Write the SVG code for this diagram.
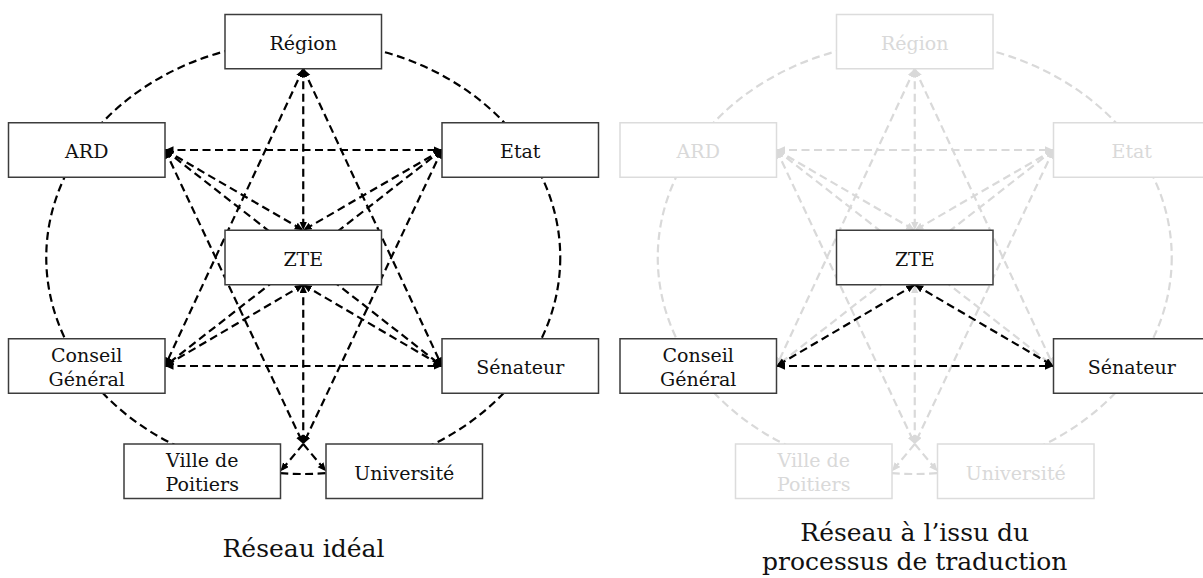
<svg xmlns="http://www.w3.org/2000/svg" width="1203" height="578" viewBox="0 0 1203 578">
  <style>
    .bg{fill:#fff}
    .lk{fill:none;stroke:#000;stroke-width:2.2;stroke-dasharray:8 4.5}
    .lg{fill:none;stroke:#d9d9d9;stroke-width:2.2;stroke-dasharray:8 4.5}
    .k2{marker-start:url(#ak);marker-end:url(#ak)}
    .k1{marker-end:url(#ak)}
    .g2{marker-start:url(#ag);marker-end:url(#ag)}
    .g1{marker-end:url(#ag)}
    .box{fill:#fff;stroke:#3c3c3c;stroke-width:1.5}
    .boxg{fill:#fff;stroke:#dcdcdc;stroke-width:1.5}
    .t{font-family:"DejaVu Serif","Liberation Serif",serif;font-size:19px;text-anchor:middle;fill:#111}
    .tg{font-family:"DejaVu Serif","Liberation Serif",serif;font-size:19px;text-anchor:middle;fill:#d9d9d9}
    .title{font-family:"DejaVu Serif","Liberation Serif",serif;font-size:25px;text-anchor:middle;fill:#111}
  </style>
  <defs>
    <marker id="ak" markerUnits="userSpaceOnUse" markerWidth="9" markerHeight="8" refX="8.5" refY="3.75" orient="auto-start-reverse">
      <path d="M0,0 L8.5,3.75 L0,7.5 Z" fill="#000"/>
    </marker>
    <marker id="ag" markerUnits="userSpaceOnUse" markerWidth="9" markerHeight="8" refX="8.5" refY="3.75" orient="auto-start-reverse">
      <path d="M0,0 L8.5,3.75 L0,7.5 Z" fill="#d9d9d9"/>
    </marker>
  </defs>
  <rect class="bg" x="0" y="0" width="1203" height="578"/>

  <!-- LEFT PANEL: ideal network -->
  <g id="left-panel">
    <g id="left-connectors">
      <ellipse class="lk" cx="303.25" cy="257.5" rx="257" ry="216.5"/>
      <path class="lk k2" d="M303.25,68.75 L303.25,230.25"/>
      <path class="lk k2" d="M303.25,68.75 L165,366"/>
      <path class="lk k2" d="M303.25,68.75 L442,366"/>
      <path class="lk k2" d="M165,150 L442,150"/>
      <path class="lk k2" d="M165,150 L303.25,230.25"/>
      <path class="lk k2" d="M442,150 L303.25,230.25"/>
      <path class="lk k2" d="M165,150 L442,366"/>
      <path class="lk k2" d="M442,150 L165,366"/>
      <path class="lk k2" d="M165,150 L303.25,444"/>
      <path class="lk k2" d="M442,150 L303.25,444"/>
      <path class="lk k2" d="M303.25,284.75 L165,366"/>
      <path class="lk k2" d="M303.25,284.75 L442,366"/>
      <path class="lk k2" d="M303.25,284.75 L303.25,444"/>
      <path class="lk k2" d="M165,366 L442,366"/>
      <path class="lk k1" d="M303.25,444 L280.5,471.25"/>
      <path class="lk k1" d="M303.25,444 L326,471.25"/>
    </g>
    <g id="L-region"><rect class="box" x="225" y="14.5" width="156.5" height="54.25"/><text class="t" x="303.25" y="49.5">Région</text></g>
    <g id="L-ard"><rect class="box" x="8.5" y="122.75" width="156.5" height="54.5"/><text class="t" x="86.75" y="158">ARD</text></g>
    <g id="L-etat"><rect class="box" x="442" y="122.75" width="156.5" height="54.5"/><text class="t" x="520.25" y="158">Etat</text></g>
    <g id="L-zte"><rect class="box" x="225" y="230.25" width="156.5" height="54.5"/><text class="t" x="303.25" y="266">ZTE</text></g>
    <g id="L-conseil"><rect class="box" x="8.5" y="338.75" width="156.5" height="54.5"/><text class="t" x="86.75" y="361.5">Conseil</text><text class="t" x="86.75" y="385.5">Général</text></g>
    <g id="L-senateur"><rect class="box" x="442" y="338.75" width="156.5" height="54.5"/><text class="t" x="520.25" y="374">Sénateur</text></g>
    <g id="L-ville"><rect class="box" x="124" y="444" width="156.5" height="54.5"/><text class="t" x="202.25" y="467">Ville de</text><text class="t" x="202.25" y="491">Poitiers</text></g>
    <g id="L-universite"><rect class="box" x="326" y="444" width="156.5" height="54.5"/><text class="t" x="404.25" y="479.5">Université</text></g>
    <text class="title" x="303.5" y="557">Réseau idéal</text>
  </g>

  <!-- RIGHT PANEL: network after translation -->
  <g id="right-panel" transform="translate(611.5,0)">
    <g id="right-connectors">
      <ellipse class="lg" cx="303.25" cy="257.5" rx="257" ry="216.5"/>
      <path class="lg g2" d="M303.25,68.75 L303.25,230.25"/>
      <path class="lg g2" d="M303.25,68.75 L165,366"/>
      <path class="lg g2" d="M303.25,68.75 L442,366"/>
      <path class="lg g2" d="M165,150 L442,150"/>
      <path class="lg g2" d="M165,150 L303.25,230.25"/>
      <path class="lg g2" d="M442,150 L303.25,230.25"/>
      <path class="lg g2" d="M165,150 L442,366"/>
      <path class="lg g2" d="M442,150 L165,366"/>
      <path class="lg g2" d="M165,150 L303.25,444"/>
      <path class="lg g2" d="M442,150 L303.25,444"/>
      <path class="lg g2" d="M303.25,284.75 L303.25,444"/>
      <path class="lg g1" d="M303.25,444 L280.5,471.25"/>
      <path class="lg g1" d="M303.25,444 L326,471.25"/>
      <path class="lk k2" d="M303.25,284.75 L165,366"/>
      <path class="lk k2" d="M303.25,284.75 L442,366"/>
      <path class="lk k2" d="M165,366 L442,366"/>
    </g>
    <g id="R-region"><rect class="boxg" x="225" y="14.5" width="156.5" height="54.25"/><text class="tg" x="303.25" y="49.5">Région</text></g>
    <g id="R-ard"><rect class="boxg" x="8.5" y="122.75" width="156.5" height="54.5"/><text class="tg" x="86.75" y="158">ARD</text></g>
    <g id="R-etat"><rect class="boxg" x="442" y="122.75" width="156.5" height="54.5"/><text class="tg" x="520.25" y="158">Etat</text></g>
    <g id="R-zte"><rect class="box" x="225" y="230.25" width="156.5" height="54.5"/><text class="t" x="303.25" y="266">ZTE</text></g>
    <g id="R-conseil"><rect class="box" x="8.5" y="338.75" width="156.5" height="54.5"/><text class="t" x="86.75" y="361.5">Conseil</text><text class="t" x="86.75" y="385.5">Général</text></g>
    <g id="R-senateur"><rect class="box" x="442" y="338.75" width="156.5" height="54.5"/><text class="t" x="520.25" y="374">Sénateur</text></g>
    <g id="R-ville"><rect class="boxg" x="124" y="444" width="156.5" height="54.5"/><text class="tg" x="202.25" y="467">Ville de</text><text class="tg" x="202.25" y="491">Poitiers</text></g>
    <g id="R-universite"><rect class="boxg" x="326" y="444" width="156.5" height="54.5"/><text class="tg" x="404.25" y="479.5">Université</text></g>
    <text class="title" x="303.25" y="541">Réseau à l’issu du</text>
    <text class="title" x="303.25" y="570">processus de traduction</text>
  </g>
</svg>
